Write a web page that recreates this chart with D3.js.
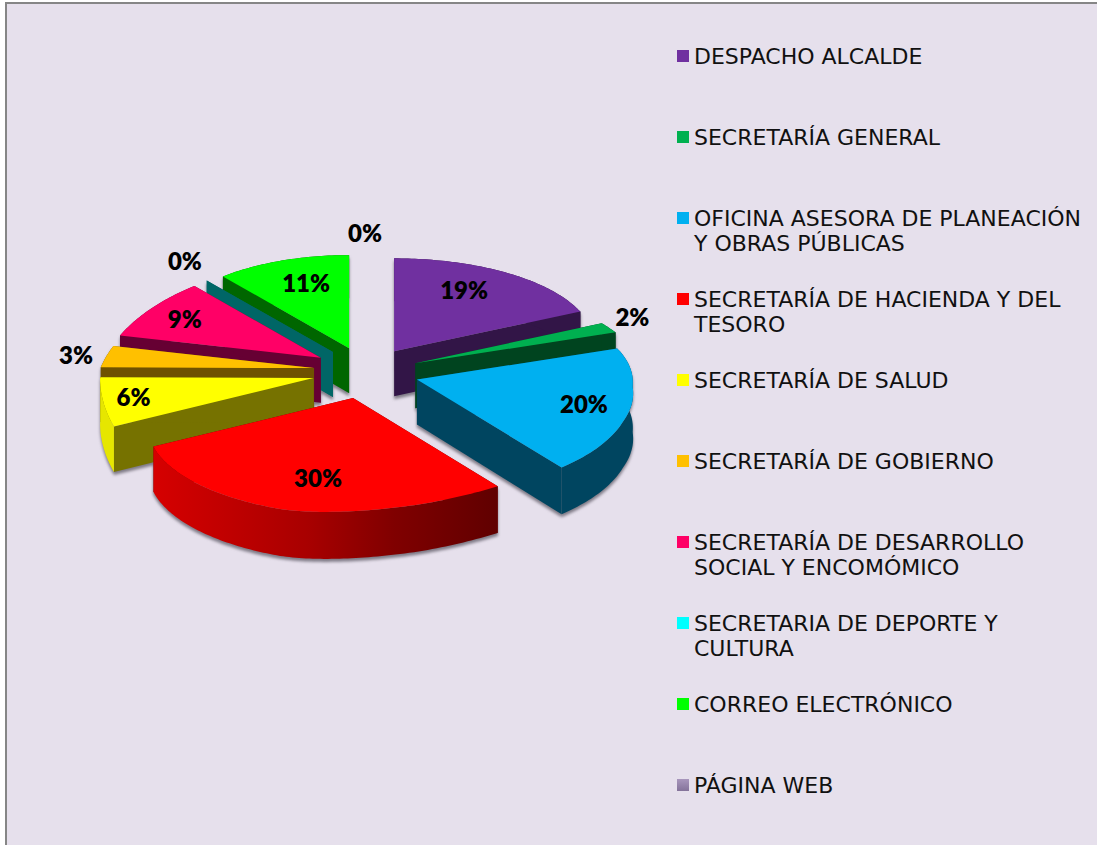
<!DOCTYPE html>
<html><head><meta charset="utf-8">
<script src="https://cdn.jsdelivr.net/npm/d3@7/dist/d3.min.js"></script>
<style>html,body{margin:0;padding:0;background:#fff}svg{display:block}</style>
</head><body><svg id="c" width="1097" height="845"></svg>
<script>
// ---- data ----
const categories = ["DESPACHO ALCALDE","SECRETARÍA GENERAL","OFICINA ASESORA DE PLANEACIÓN Y OBRAS PÚBLICAS","SECRETARÍA DE HACIENDA Y DEL TESORO","SECRETARÍA DE SALUD","SECRETARÍA DE GOBIERNO","SECRETARÍA DE DESARROLLO SOCIAL Y ENCOMÓMICO","SECRETARIA DE DEPORTE Y CULTURA","CORREO ELECTRÓNICO","PÁGINA WEB"];
const legendLines = [["DESPACHO ALCALDE"],["SECRETARÍA GENERAL"],["OFICINA ASESORA DE PLANEACIÓN","Y OBRAS PÚBLICAS"],["SECRETARÍA DE HACIENDA Y DEL","TESORO"],["SECRETARÍA DE SALUD"],["SECRETARÍA DE GOBIERNO"],["SECRETARÍA DE DESARROLLO","SOCIAL Y ENCOMÓMICO"],["SECRETARIA DE DEPORTE Y","CULTURA"],["CORREO ELECTRÓNICO"],["PÁGINA WEB"]];
const values = [19,2,20,30,6,3,9,0,11,0];
const topColors = ["#7030a0","#00b050","#00b0f0","#ff0000","#ffff00","#ffc000","#ff0066","#00ffff","#00ff00","#a08cb4"];
const wallColors = ["#321547","#00441f","#004560","#6a0000","#767200","#6f5200","#660033","#006666","#006600","#4a3f55"];
const rimColors = ["#321547","#00441f","#004560","url(#redRim)","#e6e600","#6f5200","#660033","#006666","#006600","#4a3f55"];

// ---- layout ----
const cx = 368, cy = 371, explode = 0.25;
const apexNudge = [[-2,0],[-1,1],[-4.5,1.5],[4.5,-0.5],[-2,1],[-2,0],[-5,-1],[-3.5,-1],[-2,-1],[0,0]];
const deg = [0,68,76,100,120,135,147.6,165,200,255.6,277,288,320,360];
const reachX = d3.scaleLinear().domain(deg).range([200,200,207,219,238,255,270,262,212,206,215,211,198,200]);
const skewY  = d3.scaleLinear().domain(deg).range([0,-6,-8,-10,-12,-13,-15,-15,-17,-25,-11,-7,0,0]);
const reachY = d3.scaleLinear().domain(deg).range([93,93,93,100,105,110,114,114,112,98,93,93,93,93]);
const depth  = d3.scaleLinear().domain([-1,1]).range([47,43]);
const toDeg = r => r*180/Math.PI;
const proj = a => { const d = toDeg(a), u = Math.sin(a), v = Math.cos(a);
  return [reachX(d)*u, skewY(d)*u - reachY(d)*v, depth(v)]; };
const labelOffsets = [[70,-61],[217,-46],[167,25],[-35,80],[-180,19],[-238,-13],[-136,-39],[-148,-91],[-43,-65],[-3,-115]];

const pie = d3.pie().sort(null).startAngle(0).endAngle(2*Math.PI);
const arcs = pie(values);
const line = d3.line();
const svg = d3.select("#c");

const defs = svg.append("defs");
const g = defs.append("linearGradient").attr("id","redRim").attr("gradientUnits","userSpaceOnUse")
  .attr("x1",153).attr("x2",497).attr("y1",0).attr("y2",0);
[[0,"#d60000"],[.45,"#a80000"],[.7,"#800000"],[1,"#600000"]].forEach(s=>g.append("stop").attr("offset",s[0]).attr("stop-color",s[1]));
const g2 = defs.append("linearGradient").attr("id","webSwatch").attr("x1",0).attr("x2",0).attr("y1",0).attr("y2",1);
[[0,"#a896bc"],[1,"#84739a"]].forEach(s=>g2.append("stop").attr("offset",s[0]).attr("stop-color",s[1]));
defs.append("filter").attr("id","soft").attr("x","-10%").attr("y","-10%").attr("width","120%").attr("height","120%")
  .append("feGaussianBlur").attr("stdDeviation",1.6);

// frame
svg.append("rect").attr("x",5).attr("y",2).attr("width",1092).attr("height",843).attr("fill","#868686");
svg.append("rect").attr("x",7).attr("y",4).attr("width",1090).attr("height",841).attr("fill","#e6e0ec");

// geometry of one slice
arcs.forEach(d=>{
  const mid = (d.startAngle+d.endAngle)/2, m = proj(mid), nudge = apexNudge[d.index];
  d.apex = [cx + explode*m[0] + nudge[0], cy + explode*m[1] + nudge[1]];
  const n = Math.max(1, Math.ceil(toDeg(d.endAngle-d.startAngle)));
  const steps = d3.range(n+1).map(i=>d.startAngle+(d.endAngle-d.startAngle)*i/n);
  d.pts = steps.map(a=>{const p=proj(a);return [d.apex[0]+p[0],d.apex[1]+p[1],p[2]];});
  d.drop = depth(0);
});
const topPath = d => line([d.apex,...d.pts.map(p=>[p[0],p[1]])])+"Z";
const rimPath = d => line([...d.pts.map(p=>[p[0],p[1]]),...d.pts.slice().reverse().map(p=>[p[0],p[1]+p[2]])])+"Z";
const edgePath = (d,p) => line([d.apex,[p[0],p[1]],[p[0],p[1]+p[2]],[d.apex[0],d.apex[1]+d.drop]])+"Z";

// soft shadow below everything
const order = [8,7,6,5,4,0,1,2,3,9];
const shadow = svg.append("g").attr("filter","url(#soft)").attr("transform","translate(0,3)").attr("fill","#7f7a86");
order.forEach(i=>{const d=arcs[i];
  shadow.append("path").attr("d",topPath(d));
  shadow.append("path").attr("d",rimPath(d));
  shadow.append("path").attr("d",edgePath(d,d.pts[0]));
  shadow.append("path").attr("d",edgePath(d,d.pts[d.pts.length-1]));
});

// slices back to front
const slices = svg.selectAll("g.slice").data(order.map(i=>arcs[i])).join("g").attr("class","slice");
slices.append("path").attr("d",d=>edgePath(d,d.pts[0])).attr("fill",d=>wallColors[d.index]);
slices.append("path").attr("d",d=>edgePath(d,d.pts[d.pts.length-1])).attr("fill",d=>wallColors[d.index]);
slices.append("path").attr("d",rimPath).attr("fill",d=>rimColors[d.index]);
slices.append("path").attr("d",topPath).attr("fill",d=>topColors[d.index]);

// percentage labels
svg.selectAll("text.pct").data(arcs).join("text").attr("class","pct")
  .attr("x",d=>d.apex[0]+labelOffsets[d.index][0])
  .attr("y",d=>d.apex[1]+labelOffsets[d.index][1]+9)
  .attr("text-anchor","middle")
  .style("font","800 24px Lato, sans-serif").attr("fill","#000")
  .text(d=>d3.format(".0%")(d.data/d3.sum(values)));

// legend
const rowY = d3.scalePoint().domain(categories).range([56,785]);
const legend = svg.selectAll("g.leg").data(categories).join("g").attr("class","leg")
  .attr("transform",d=>`translate(677,${rowY(d)})`);
legend.append("rect").attr("x",0).attr("y",-6).attr("width",12).attr("height",12)
  .attr("fill",(d,i)=>i===9?"url(#webSwatch)":topColors[i]);
legend.append("text").attr("y",7.5).attr("fill","#111")
  .style("font","22px 'DejaVu Sans', Verdana, sans-serif")
  .selectAll("tspan").data((d,i)=>legendLines[i]).join("tspan")
  .attr("x",17).attr("dy",(d,i)=>i?25.6:0).text(d=>d);
</script></body></html>
